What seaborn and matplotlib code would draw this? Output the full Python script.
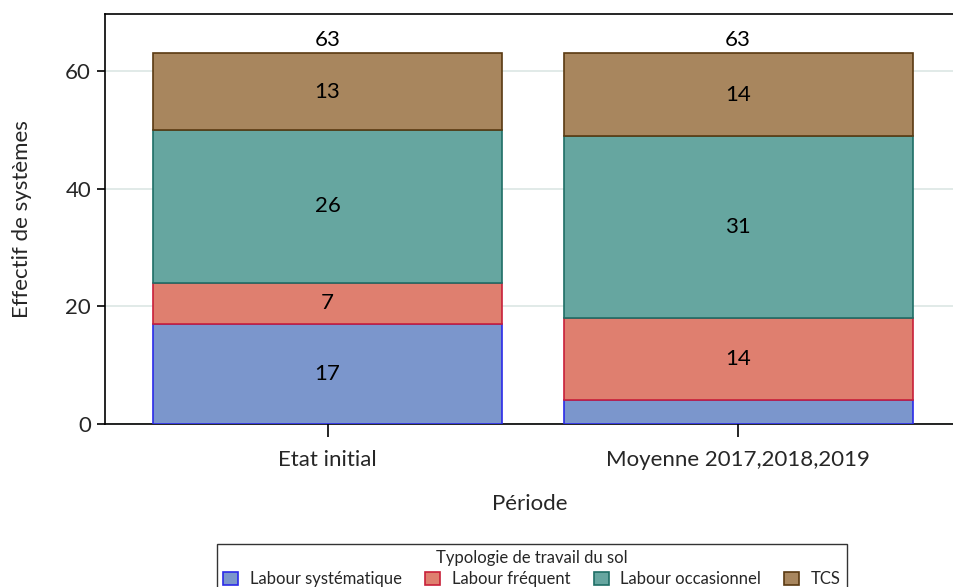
import matplotlib
matplotlib.use("Agg")
import matplotlib.pyplot as plt
from matplotlib.patches import Patch
import seaborn as sns
import pandas as pd
import numpy as np

periods = ["Etat initial", "Moyenne 2017,2018,2019"]
series = ["Labour systématique", "Labour fréquent", "Labour occasionnel", "TCS"]
labour_systematique = [17, 4]
labour_frequent = [7, 14]
labour_occasionnel = [26, 31]
tcs = [13, 14]
values = [labour_systematique, labour_frequent, labour_occasionnel, tcs]

fill_colors = ["#7B96CC", "#DF7F6F", "#66A6A0", "#A8865E"]
edge_colors = ["#2B2BE8", "#C8203A", "#1F6E66", "#5A3A12"]

sns.set_theme(style="white")
plt.rcParams["font.family"] = ["Lato", "DejaVu Sans"]

FS = 16

fig = plt.figure(figsize=(9.54, 5.87), dpi=100)
ax = fig.add_axes([105/954, 163/587, 1 - 105/954, (424-14)/587])

df = pd.DataFrame({"Période": periods})
bottoms = np.zeros(len(periods))
for name, vals, fc, ec in zip(series, values, fill_colors, edge_colors):
    df[name] = vals
    sns.barplot(data=df, x="Période", y=name, bottom=bottoms, color=fc,
                edgecolor=ec, linewidth=1.2, width=0.85, saturation=1,
                ax=ax, zorder=3)
    for i, v in enumerate(vals):
        if v >= 5:
            ax.text(i, bottoms[i] + v / 2, str(v), ha="center", va="center",
                    fontsize=FS, color="black", zorder=5)
    bottoms = bottoms + np.array(vals)

for i, tot in enumerate(bottoms):
    ax.text(i, tot + 0.6, f"{int(tot)}", ha="center", va="bottom",
            fontsize=FS, color="black", zorder=5)

ax.set_xlim(-0.542, 1.526)
ax.set_ylim(0, 69.7)
ax.set_yticks([0, 20, 40, 60])
ax.yaxis.grid(True, color="#DCE6E4", linewidth=1.2, zorder=0)
ax.xaxis.grid(False)
ax.set_axisbelow(True)

for s in ["left", "bottom", "top"]:
    ax.spines[s].set_visible(True)
    ax.spines[s].set_color("black")
    ax.spines[s].set_linewidth(1.2)
ax.spines["right"].set_visible(False)

ax.tick_params(axis="y", which="major", left=True, length=6, width=1.2,
               color="black", labelsize=FS, pad=4)
ax.tick_params(axis="x", which="major", bottom=True, length=9, width=1.2,
               color="black", labelsize=FS, pad=10)

ax.set_xlabel("Période", fontsize=FS, labelpad=17)
ax.set_ylabel("Effectif de systèmes", fontsize=FS, labelpad=24)

handles = [Patch(facecolor=fc, edgecolor=ec, linewidth=1.2, label=s)
           for s, fc, ec in zip(series, fill_colors, edge_colors)]
leg = fig.legend(handles=handles, title="Typologie de travail du sol",
                 loc="upper center", bbox_to_anchor=(532/954, 1 - 536/587),
                 ncol=4, fontsize=12, title_fontsize=12, frameon=True,
                 fancybox=False, edgecolor="black", handlelength=0.9,
                 handleheight=0.9, handletextpad=0.7, columnspacing=1.4,
                 borderpad=0.35, labelspacing=0.3)
leg.get_frame().set_linewidth(1.0)

fig.savefig("out.png", dpi=100)
